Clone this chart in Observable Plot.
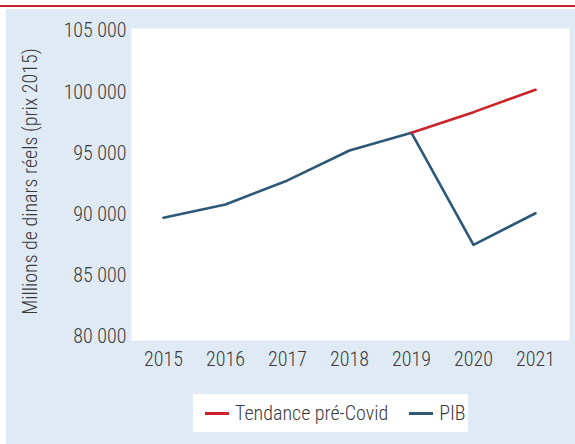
<!DOCTYPE html>
<html>
<head>
<meta charset="utf-8">
<script src="https://cdn.jsdelivr.net/npm/d3@7"></script>
<script src="https://cdn.jsdelivr.net/npm/@observablehq/plot@0.6"></script>
<style>
  html, body { margin: 0; padding: 0; background: #ffffff; }
  #wrap { position: relative; width: 575px; height: 444px; overflow: hidden; font-family: "Roboto Condensed", Roboto, sans-serif; font-weight: 300; color: #3a3a3a; }
  #topline { position: absolute; left: 0; top: 5px; width: 575px; height: 2px; background: #cc2229; }
  #panel { position: absolute; left: 6px; top: 9px; width: 569px; height: 435px; background: #dfeaf4; }
  #chart { position: absolute; left: 0; top: 0; }
  #legend { position: absolute; left: 193px; top: 394px; width: 275px; height: 38px; background: #ffffff; display: flex; align-items: center; font-size: 20px; }
  .item { display: flex; align-items: center; }
  .swatch { display: inline-block; width: 24px; height: 3px; margin-right: 6px; }
</style>
</head>
<body>
<div id="wrap">
  <div id="topline"></div>
  <div id="panel"></div>
  <div id="chart"></div>
  <div id="legend"></div>
</div>
<script>
const years = [2015, 2016, 2017, 2018, 2019, 2020, 2021];
const pib = [89740, 90830, 92790, 95240, 96680, 87530, 90110];
const trendYears = [2019, 2020, 2021];
const trend = [96680, 98370, 100200];
const yTicks = [80000, 85000, 90000, 95000, 100000, 105000];
const seriesNames = ["Tendance pré-Covid", "PIB"];
const seriesColors = ["#cc2229", "#2d5878"];
const yTitle = "Millions de dinars réels (prix 2015)";

const pibData = years.map((y, i) => ({year: String(y), value: pib[i]}));
const trendData = trendYears.map((y, i) => ({year: String(y), value: trend[i]}));
const fmt = v => d3.format(",")(v).replace(/,/g, " ");

const plot = Plot.plot({
  width: 575,
  height: 444,
  marginLeft: 131,
  marginRight: 6,
  marginTop: 28,
  marginBottom: 104,
  style: { background: "transparent", fontFamily: "'Roboto Condensed', Roboto, sans-serif", fontSize: "20px", color: "#3a3a3a", fontWeight: 300 },
  x: { type: "point", domain: years.map(String), padding: 0, insetLeft: 29, insetRight: 32 },
  y: { domain: [80000, 105000], insetTop: 2.5, insetBottom: 3.5 },
  marks: [
    Plot.frame({ fill: "white", stroke: "none" }),
    Plot.axisY({ ticks: yTicks, tickSize: 0, tickPadding: 5, tickFormat: fmt, label: null, fontSize: 20 }),
    Plot.axisX({ tickSize: 0, tickPadding: 11, label: null, fontSize: 20 }),
    Plot.text([yTitle], { frameAnchor: "left", textAnchor: "middle", rotate: -90, dx: -101, dy: -3, fontSize: 20, fill: "#3a3a3a" }),
    Plot.line(pibData, { x: "year", y: "value", stroke: seriesColors[1], strokeWidth: 2.6 }),
    Plot.line(trendData, { x: "year", y: "value", stroke: seriesColors[0], strokeWidth: 2.6 })
  ]
});
document.getElementById("chart").appendChild(plot);

const legend = document.getElementById("legend");
const gaps = ["12px", "21px"];
seriesNames.forEach((name, i) => {
  const item = document.createElement("div");
  item.className = "item";
  item.style.marginLeft = gaps[i];
  const sw = document.createElement("span");
  sw.className = "swatch";
  sw.style.background = seriesColors[i];
  const t = document.createElement("span");
  t.textContent = name;
  item.appendChild(sw);
  item.appendChild(t);
  legend.appendChild(item);
});
</script>
</body>
</html>
